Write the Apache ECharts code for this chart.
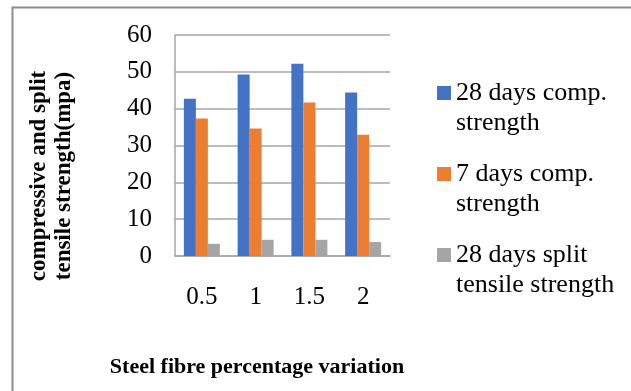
<!DOCTYPE html>
<html>
<head>
<meta charset="utf-8">
<script src="https://cdn.jsdelivr.net/npm/echarts@6/dist/echarts.min.js"></script>
<style>html,body{margin:0;padding:0;background:#fff;}#c{width:631px;height:391px;}</style>
</head>
<body>
<div id="c"></div>
<script>
const categories = ['0.5', '1', '1.5', '2'];
const seriesNames = ['28 days comp. strength', '7 days comp. strength', '28 days split tensile strength'];
const comp28 = [42.7, 49.3, 52.2, 44.4];
const comp7 = [37.3, 34.6, 41.7, 32.9];
const split28 = [3.3, 4.4, 4.4, 3.8];
const yTicks = { min: 0, max: 60, interval: 10 };
const xTitle = 'Steel fibre percentage variation';
const yTitle = 'compressive and split\ntensile strength(mpa)';
const legendLabels = {
  '28 days comp. strength': '28 days comp.\nstrength',
  '7 days comp. strength': '7 days comp.\nstrength',
  '28 days split tensile strength': '28 days split\ntensile strength'
};

const FONT = '"Liberation Serif", "Times New Roman", serif';
const colors = ['#4472C4', '#ED7D31', '#A5A5A5'];
const values = [comp28, comp7, split28];

const chart = echarts.init(document.getElementById('c'));
chart.setOption({
  animation: false,
  color: colors,
  grid: { left: 175, right: 241, top: 35, bottom: 135, containLabel: false },
  xAxis: {
    type: 'category',
    data: categories,
    axisLine: { show: true, lineStyle: { color: '#a6a6a6', width: 1.5 } },
    axisTick: { show: false },
    axisLabel: { fontFamily: FONT, fontSize: 25, color: '#000', margin: 29 }
  },
  yAxis: {
    type: 'value',
    min: yTicks.min, max: yTicks.max, interval: yTicks.interval,
    axisLine: { show: true, lineStyle: { color: '#a6a6a6', width: 1.5 } },
    axisTick: { show: false },
    splitLine: { show: true, lineStyle: { color: '#a6a6a6', width: 1.5 } },
    axisLabel: { fontFamily: FONT, fontSize: 25, color: '#000', margin: 23 }
  },
  legend: {
    orient: 'vertical',
    left: 437, top: 48,
    padding: 0,
    itemWidth: 14, itemHeight: 14,
    itemGap: -9,
    icon: 'rect',
    data: seriesNames,
    formatter: function (n) { return ' \n' + legendLabels[n]; },
    textStyle: { fontFamily: FONT, fontSize: 26, color: '#000', lineHeight: 30 }
  },
  series: seriesNames.map(function (n, i) {
    return {
      name: n, type: 'bar', data: values[i],
      barGap: '0%', barCategoryGap: '33%'
    };
  }),
  graphic: [
    { type: 'rect', left: 10, top: 5, shape: { x: 0, y: 0, width: 640, height: 400 },
      style: { fill: 'none', stroke: '#8c8c8c', lineWidth: 2 }, silent: true, z: -1 },
    { type: 'text', x: 257, y: 367,
      style: { text: xTitle, font: 'bold 22px ' + FONT, fill: '#000', align: 'center', verticalAlign: 'middle' } },
    { type: 'text', x: 52, y: 176, rotation: Math.PI / 2,
      style: { text: yTitle, font: 'bold 23px ' + FONT, fill: '#000', align: 'center', verticalAlign: 'middle', lineHeight: 25 } }
  ]
});
</script>
</body>
</html>
